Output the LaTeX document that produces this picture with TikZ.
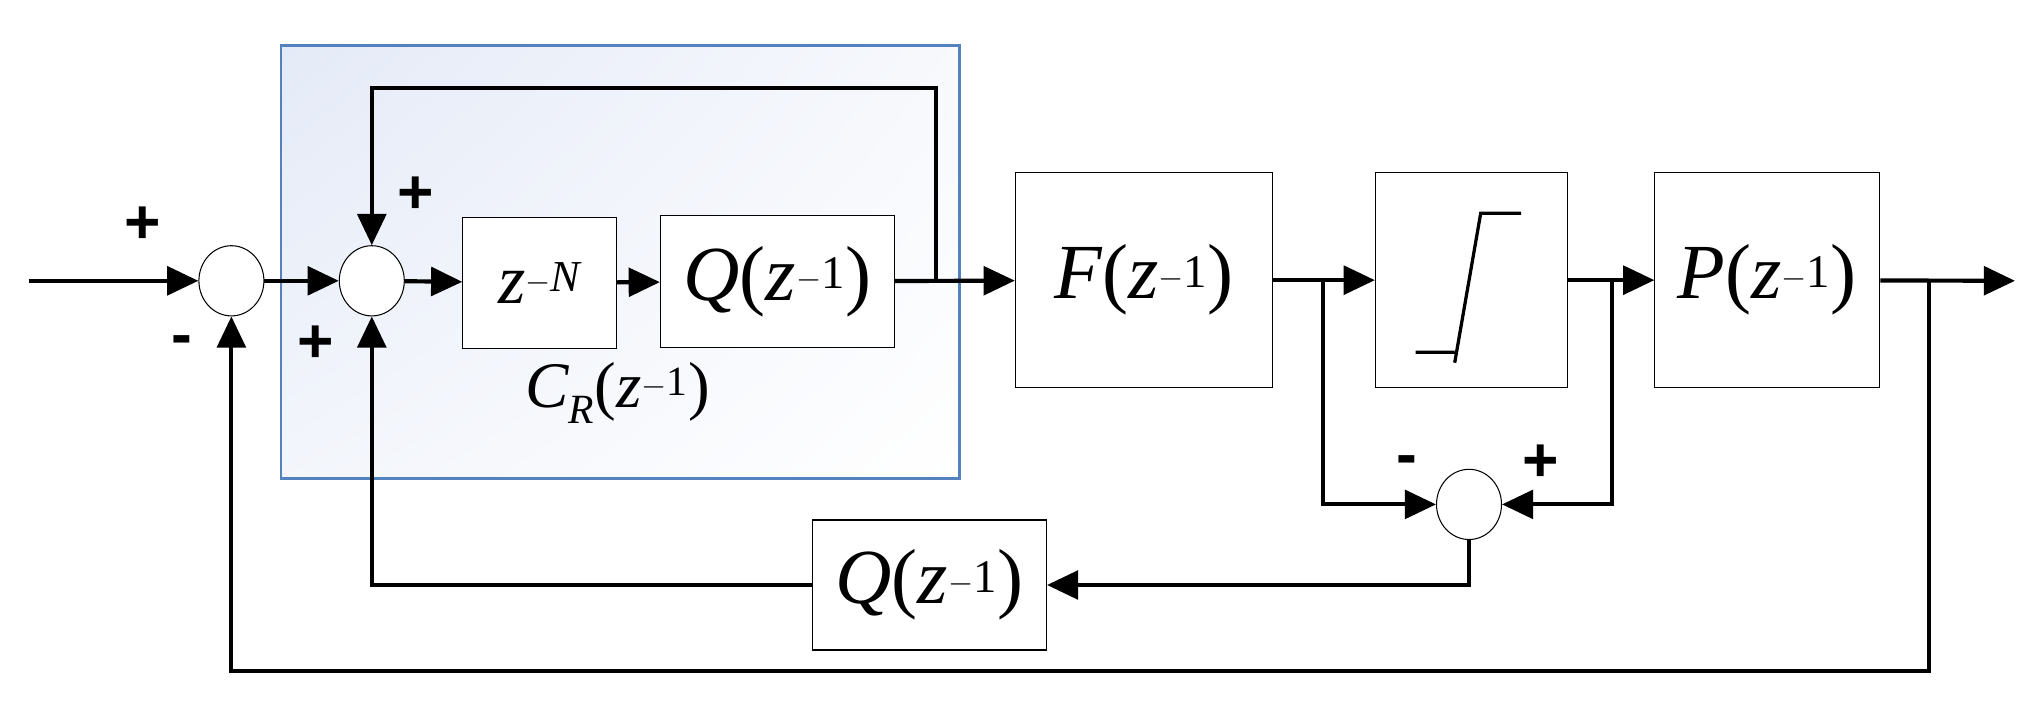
\documentclass[tikz,border=0pt]{standalone}
\usepackage{fontspec}
\setmainfont{Liberation Serif}
\newfontfamily\sansb{Liberation Sans}
\usetikzlibrary{arrows.meta,shapes.geometric,shadings}
\definecolor{bborder}{RGB}{84,130,190}
\definecolor{bfill}{RGB}{228,234,247}
\begin{document}
\begin{tikzpicture}[x=1pt,y=-1pt,
  line width=3.2pt,
  arr/.style={-{Triangle[length=24pt,width=22pt]}},
  blk/.style={draw,line width=0.8pt,fill=white,inner sep=0pt},
  sum/.style={draw,line width=0.8pt,ellipse,minimum width=50pt,minimum height=54pt,inner sep=0pt,fill=white},
  tf/.style={font=\fontsize{60}{64}\selectfont},
  sg/.style={font=\sansb\bfseries\fontsize{48}{50}\selectfont}]
\useasboundingbox (0,0) rectangle (1560,552);
\shade[upper left=bfill, upper right=bfill!30!white, lower left=bfill!45!white, lower right=white] (216,35) rectangle (738,368);
\draw[bborder,line width=2pt] (216,35) rectangle (738,368);
\node[sum] (s1) at (178,216) {};
\node[sum] (s2) at (286,216) {};
\node[sum] (s3) at (1130,388) {};
\node[blk,minimum width=118pt,minimum height=101pt] (zn) at (415,217.5) {};
\node[font=\fontsize{54}{58}\selectfont] at (zn) {\itshape z\textsuperscript{\fontsize{34}{36}\selectfont $-$N}};
\node[blk,minimum width=180pt,minimum height=101pt] (q1) at (598,216.5) {};
\node[tf] at (q1) {\itshape Q\upshape(\itshape z\upshape\textsuperscript{\fontsize{36}{38}\selectfont $-$1})};
\node[blk,minimum width=198pt,minimum height=165pt] (f) at (880,215.5) {};
\node[tf] at (f) {\itshape F\upshape(\itshape z\upshape\textsuperscript{\fontsize{36}{38}\selectfont $-$1})};
\node[blk,minimum width=148pt,minimum height=165pt] (sat) at (1132,215.5) {};
\draw[line width=2.5pt] (1089,271) -- (1119,271) (1119,279) -- (1139,164) -- (1170,164);
\node[blk,minimum width=173pt,minimum height=165pt] (p) at (1359.5,215.5) {};
\node[tf] at (p) {\itshape P\upshape(\itshape z\upshape\textsuperscript{\fontsize{36}{38}\selectfont $-$1})};
\node[blk,minimum width=180pt,minimum height=100pt] (q2) at (715,450) {};
\node[tf] at (q2) {\itshape Q\upshape(\itshape z\upshape\textsuperscript{\fontsize{36}{38}\selectfont $-$1})};
\node[font=\fontsize{50}{54}\selectfont] at (475,302) {\itshape C\textsubscript{\fontsize{32}{34}\selectfont R}\upshape(\itshape z\upshape\textsuperscript{\fontsize{32}{34}\selectfont $-$1})};
\coordinate (in) at (22,216);
\coordinate (out) at (1550,216);
\coordinate (t1) at (720,216);
\coordinate (b1) at (1018,216);
\coordinate (b2) at (1240,216);
\coordinate (b3) at (1484,216);
\draw[arr] (in) -- (s1);
\draw[arr] (s1) -- (s2);
\draw[arr] (s2) -- (zn);
\draw[arr] (zn) -- (q1);
\draw[arr] (q1) -- (f);
\draw[arr] (t1) |- (286,68) -- (s2);
\draw[arr] (f) -- (sat);
\draw[arr] (sat) -- (p);
\draw[arr] (p) -- (out);
\draw[arr] (b1) |- (s3);
\draw[arr] (b2) |- (s3);
\draw[arr] (s3) |- (q2);
\draw[arr] (q2) -| (s2);
\draw[arr] (b3) |- (178,516) -- (s1);
\node[sg] at (110,173) {+};
\node[sg] at (140,266) {-};
\node[sg] at (320,150) {+};
\node[sg] at (243,265) {+};
\node[sg] at (1082,358) {-};
\node[sg] at (1185,356) {+};
\end{tikzpicture}
\end{document}
